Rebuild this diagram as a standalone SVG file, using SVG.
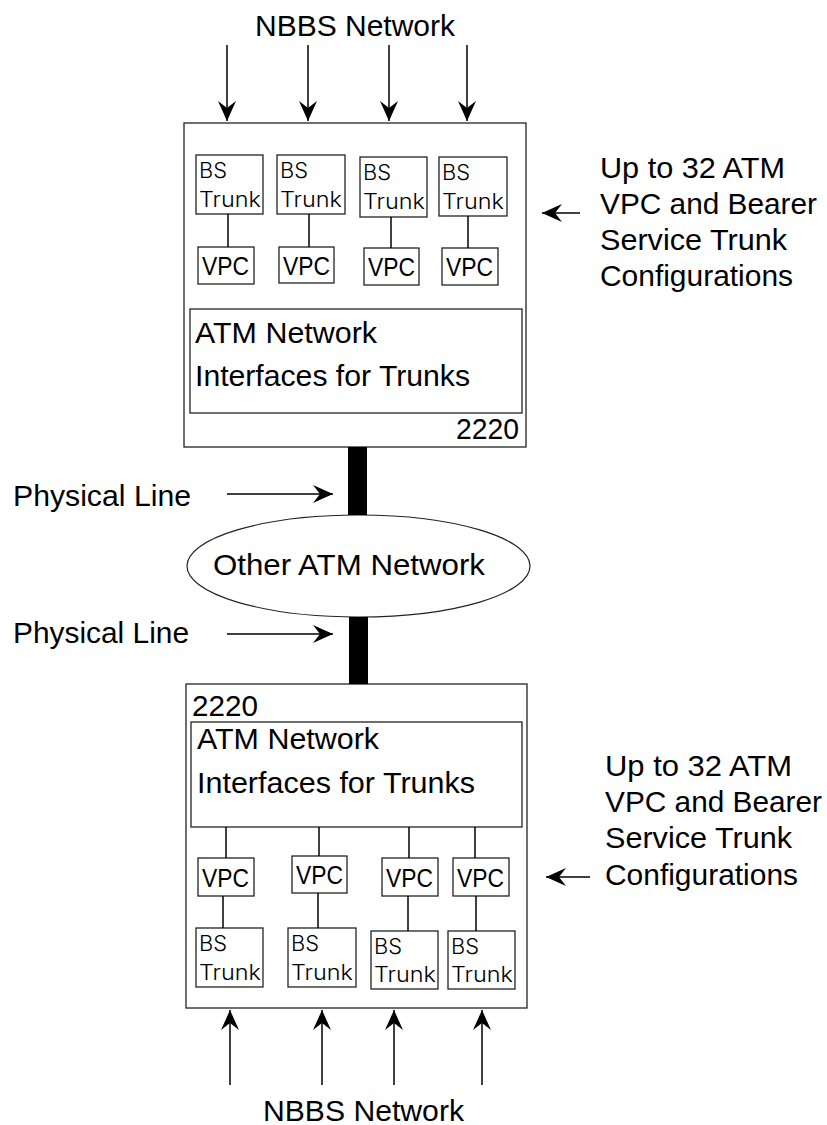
<svg xmlns="http://www.w3.org/2000/svg" width="827" height="1125" viewBox="0 0 827 1125">
<style>
text{font-family:"Liberation Sans",Arial,sans-serif;fill:#000}
.big{font-size:30px}
.vpc{font-size:26px}
.bs{font-family:"Inter","Liberation Sans",sans-serif;font-weight:300;font-size:21px}
.box{fill:#fff;stroke:#222;stroke-width:1.3}
.ln{stroke:#000;stroke-width:1.5;fill:none}
.bar{fill:#000}
</style>
<defs>
<marker id="ah" markerUnits="userSpaceOnUse" markerWidth="30" markerHeight="24" refX="0" refY="0" viewBox="-24 -12 26 24" orient="auto" overflow="visible">
<path d="M0,0 L-20,-9 L-13,0 L-20,9 Z" fill="#000"/>
</marker>
</defs>
<rect width="827" height="1125" fill="#fff"/>

<g id="top-nbbs"><text class="big" x="255" y="36" textLength="200" lengthAdjust="spacingAndGlyphs">NBBS Network</text></g>

<g id="top-2220">
<rect class="box" x="184" y="123" width="342" height="324"/>
<text class="big" x="456" y="439" textLength="63" lengthAdjust="spacingAndGlyphs">2220</text>
</g>
<g id="top-atm">
<rect class="box" x="190" y="309" width="332" height="104"/>
<text class="big" x="195" y="343" textLength="182" lengthAdjust="spacingAndGlyphs">ATM Network</text>
<text class="big" x="195" y="386" textLength="275" lengthAdjust="spacingAndGlyphs">Interfaces for Trunks</text>
</g>
<g id="top-bs1"><rect class="box" x="196" y="155" width="67" height="59"/><text class="bs" x="199" y="178" textLength="28" lengthAdjust="spacingAndGlyphs">BS</text><text class="bs" x="199" y="207" textLength="62" lengthAdjust="spacingAndGlyphs">Trunk</text></g>
<g id="top-bs2"><rect class="box" x="277" y="155" width="68" height="59"/><text class="bs" x="280" y="178" textLength="28" lengthAdjust="spacingAndGlyphs">BS</text><text class="bs" x="280" y="207" textLength="62" lengthAdjust="spacingAndGlyphs">Trunk</text></g>
<g id="top-bs3"><rect class="box" x="360" y="157" width="67" height="60"/><text class="bs" x="363" y="180" textLength="28" lengthAdjust="spacingAndGlyphs">BS</text><text class="bs" x="363" y="209" textLength="62" lengthAdjust="spacingAndGlyphs">Trunk</text></g>
<g id="top-bs4"><rect class="box" x="439" y="157" width="68" height="59"/><text class="bs" x="442" y="180" textLength="28" lengthAdjust="spacingAndGlyphs">BS</text><text class="bs" x="442" y="209" textLength="62" lengthAdjust="spacingAndGlyphs">Trunk</text></g>
<g id="top-vpc1"><rect class="box" x="198" y="247" width="56" height="37"/><text class="vpc" x="202" y="275" textLength="47" lengthAdjust="spacingAndGlyphs">VPC</text></g>
<g id="top-vpc2"><rect class="box" x="279" y="247" width="55" height="36"/><text class="vpc" x="283" y="275" textLength="47" lengthAdjust="spacingAndGlyphs">VPC</text></g>
<g id="top-vpc3"><rect class="box" x="364" y="248" width="55" height="37"/><text class="vpc" x="368" y="276" textLength="47" lengthAdjust="spacingAndGlyphs">VPC</text></g>
<g id="top-vpc4"><rect class="box" x="442" y="248" width="56" height="37"/><text class="vpc" x="446" y="276" textLength="47" lengthAdjust="spacingAndGlyphs">VPC</text></g>

<g id="top-config">
<text class="big" x="600" y="178" textLength="185" lengthAdjust="spacingAndGlyphs">Up to 32 ATM</text>
<text class="big" x="600" y="214" textLength="217" lengthAdjust="spacingAndGlyphs">VPC and Bearer</text>
<text class="big" x="600" y="250" textLength="187" lengthAdjust="spacingAndGlyphs">Service Trunk</text>
<text class="big" x="600" y="286" textLength="193" lengthAdjust="spacingAndGlyphs">Configurations</text>
</g>

<g id="phys1"><text class="big" x="13" y="506" textLength="178" lengthAdjust="spacingAndGlyphs">Physical Line</text></g>
<g id="phys2"><text class="big" x="13" y="643" textLength="176" lengthAdjust="spacingAndGlyphs">Physical Line</text></g>

<g id="other-atm">
<ellipse cx="358.5" cy="566" rx="171.5" ry="51" fill="#fff" stroke="#222" stroke-width="1.2"/>
<text class="big" x="213" y="575" textLength="272" lengthAdjust="spacingAndGlyphs">Other ATM Network</text>
</g>

<g id="bot-2220">
<rect class="box" x="186" y="684" width="341" height="324"/>
<text class="big" x="192" y="716" textLength="66" lengthAdjust="spacingAndGlyphs">2220</text>
</g>
<g id="bot-atm">
<rect class="box" x="191" y="722" width="331" height="105"/>
<text class="big" x="197" y="749" textLength="182" lengthAdjust="spacingAndGlyphs">ATM Network</text>
<text class="big" x="197" y="793" textLength="278" lengthAdjust="spacingAndGlyphs">Interfaces for Trunks</text>
</g>
<g id="bot-vpc1"><rect class="box" x="198" y="858" width="56" height="38"/><text class="vpc" x="202" y="887" textLength="47" lengthAdjust="spacingAndGlyphs">VPC</text></g>
<g id="bot-vpc2"><rect class="box" x="292" y="856" width="55" height="37"/><text class="vpc" x="296" y="884" textLength="47" lengthAdjust="spacingAndGlyphs">VPC</text></g>
<g id="bot-vpc3"><rect class="box" x="382" y="858" width="56" height="38"/><text class="vpc" x="386" y="887" textLength="47" lengthAdjust="spacingAndGlyphs">VPC</text></g>
<g id="bot-vpc4"><rect class="box" x="453" y="858" width="56" height="38"/><text class="vpc" x="457" y="887" textLength="47" lengthAdjust="spacingAndGlyphs">VPC</text></g>
<g id="bot-bs1"><rect class="box" x="196" y="928" width="67" height="59"/><text class="bs" x="199" y="951" textLength="28" lengthAdjust="spacingAndGlyphs">BS</text><text class="bs" x="199" y="980" textLength="62" lengthAdjust="spacingAndGlyphs">Trunk</text></g>
<g id="bot-bs2"><rect class="box" x="288" y="928" width="68" height="59"/><text class="bs" x="291" y="951" textLength="28" lengthAdjust="spacingAndGlyphs">BS</text><text class="bs" x="291" y="980" textLength="62" lengthAdjust="spacingAndGlyphs">Trunk</text></g>
<g id="bot-bs3"><rect class="box" x="371" y="931" width="67" height="58"/><text class="bs" x="374" y="954" textLength="28" lengthAdjust="spacingAndGlyphs">BS</text><text class="bs" x="374" y="982" textLength="62" lengthAdjust="spacingAndGlyphs">Trunk</text></g>
<g id="bot-bs4"><rect class="box" x="448" y="931" width="67" height="58"/><text class="bs" x="451" y="954" textLength="28" lengthAdjust="spacingAndGlyphs">BS</text><text class="bs" x="451" y="982" textLength="62" lengthAdjust="spacingAndGlyphs">Trunk</text></g>

<g id="bot-config">
<text class="big" x="605" y="776" textLength="187" lengthAdjust="spacingAndGlyphs">Up to 32 ATM</text>
<text class="big" x="605" y="812" textLength="217" lengthAdjust="spacingAndGlyphs">VPC and Bearer</text>
<text class="big" x="605" y="848" textLength="187" lengthAdjust="spacingAndGlyphs">Service Trunk</text>
<text class="big" x="605" y="885" textLength="193" lengthAdjust="spacingAndGlyphs">Configurations</text>
</g>

<g id="bot-nbbs"><text class="big" x="263" y="1121" textLength="201" lengthAdjust="spacingAndGlyphs">NBBS Network</text></g>

<g id="connectors">
<line class="ln" x1="227" y1="45" x2="227" y2="121" marker-end="url(#ah)"/>
<line class="ln" x1="308" y1="45" x2="308" y2="121" marker-end="url(#ah)"/>
<line class="ln" x1="389" y1="45" x2="389" y2="121" marker-end="url(#ah)"/>
<line class="ln" x1="467" y1="45" x2="467" y2="121" marker-end="url(#ah)"/>
<line class="ln" x1="228" y1="214" x2="228" y2="247"/>
<line class="ln" x1="309" y1="214" x2="309" y2="247"/>
<line class="ln" x1="391" y1="217" x2="391" y2="248"/>
<line class="ln" x1="468" y1="216" x2="468" y2="248"/>
<line class="ln" x1="580" y1="213" x2="542" y2="213" marker-end="url(#ah)"/>
<rect class="bar" x="348" y="447" width="19" height="68"/>
<rect class="bar" x="349" y="617" width="19" height="67"/>
<line class="ln" x1="227" y1="494" x2="333" y2="494" marker-end="url(#ah)"/>
<line class="ln" x1="227" y1="634" x2="333" y2="634" marker-end="url(#ah)"/>
<line class="ln" x1="226" y1="827" x2="226" y2="858"/>
<line class="ln" x1="319" y1="827" x2="319" y2="856"/>
<line class="ln" x1="409" y1="827" x2="409" y2="858"/>
<line class="ln" x1="475" y1="827" x2="475" y2="858"/>
<line class="ln" x1="223" y1="896" x2="223" y2="928"/>
<line class="ln" x1="318" y1="893" x2="318" y2="928"/>
<line class="ln" x1="408" y1="896" x2="408" y2="931"/>
<line class="ln" x1="476" y1="896" x2="476" y2="931"/>
<line class="ln" x1="590" y1="877" x2="546" y2="877" marker-end="url(#ah)"/>
<line class="ln" x1="230" y1="1085" x2="230" y2="1010" marker-end="url(#ah)"/>
<line class="ln" x1="322" y1="1085" x2="322" y2="1010" marker-end="url(#ah)"/>
<line class="ln" x1="394" y1="1085" x2="394" y2="1010" marker-end="url(#ah)"/>
<line class="ln" x1="482" y1="1085" x2="482" y2="1010" marker-end="url(#ah)"/>
</g>
</svg>
